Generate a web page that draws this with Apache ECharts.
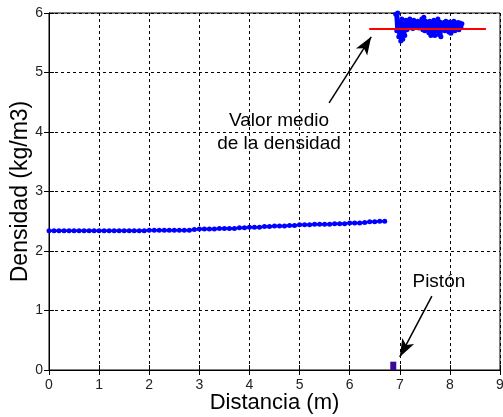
<!DOCTYPE html>
<html>
<head>
<meta charset="utf-8">
<script src="https://cdn.jsdelivr.net/npm/echarts@6/dist/echarts.min.js"></script>
<style>
  html, body { margin: 0; padding: 0; background: #fff; }
  #chart { width: 503px; height: 417px; }
</style>
</head>
<body>
<div id="chart"></div>
<script>
// Gas density ahead of the piston (low branch) and behind it (high branch)
const lowDist = [0.0, 0.1, 0.2, 0.3, 0.4, 0.5, 0.6, 0.7, 0.8, 0.9,
  1.0, 1.1, 1.2, 1.3, 1.4, 1.5, 1.6, 1.7, 1.8, 1.9,
  2.0, 2.1, 2.2, 2.3, 2.4, 2.5, 2.6, 2.7, 2.8, 2.9,
  3.0, 3.1, 3.2, 3.3, 3.4, 3.5, 3.6, 3.7, 3.8, 3.9,
  4.0, 4.1, 4.2, 4.3, 4.4, 4.5, 4.6, 4.7, 4.8, 4.9,
  5.0, 5.1, 5.2, 5.3, 5.4, 5.5, 5.6, 5.7, 5.8, 5.9,
  6.0, 6.1, 6.2, 6.3, 6.4, 6.5, 6.6, 6.7];
const lowDens = [2.34, 2.34, 2.34, 2.34, 2.34, 2.34, 2.34, 2.34, 2.34, 2.34,
  2.34, 2.34, 2.34, 2.34, 2.34, 2.34, 2.34, 2.34, 2.34, 2.34,
  2.35, 2.35, 2.35, 2.35, 2.35, 2.35, 2.35, 2.35, 2.35, 2.36,
  2.37, 2.37, 2.37, 2.37, 2.38, 2.38, 2.38, 2.38, 2.39, 2.39,
  2.40, 2.40, 2.40, 2.41, 2.41, 2.42, 2.42, 2.42, 2.43, 2.43,
  2.44, 2.44, 2.44, 2.45, 2.45, 2.45, 2.45, 2.46, 2.46, 2.46,
  2.47, 2.47, 2.47, 2.48, 2.49, 2.49, 2.50, 2.50];

const highDist = [6.92, 6.94, 6.96, 6.98, 7.00, 7.02, 7.04, 7.06, 7.08, 7.10,
  7.12, 7.14, 7.16, 7.18, 7.20, 7.22, 7.24, 7.26, 7.28, 7.30,
  7.32, 7.34, 7.36, 7.38, 7.40, 7.42, 7.44, 7.46, 7.48, 7.50,
  7.52, 7.54, 7.56, 7.58, 7.60, 7.62, 7.64, 7.66, 7.68, 7.70,
  7.72, 7.74, 7.76, 7.78, 7.80, 7.82, 7.84, 7.86, 7.88, 7.90,
  7.92, 7.94, 7.96, 7.98, 8.00, 8.02, 8.04, 8.06, 8.08, 8.10,
  8.12, 8.14, 8.16, 8.18, 8.20, 8.22, 8.24];
const highDens = [5.98, 5.70, 6.00, 5.60, 5.85, 5.53, 5.90, 5.56, 5.82, 5.62,
  5.88, 5.72, 5.86, 5.75, 5.90, 5.78, 5.84, 5.74, 5.88, 5.76,
  5.83, 5.79, 5.86, 5.75, 5.84, 5.80, 5.90, 5.72, 5.93, 5.70,
  5.86, 5.74, 5.82, 5.67, 5.86, 5.62, 5.84, 5.66, 5.88, 5.62,
  5.82, 5.70, 5.90, 5.64, 5.85, 5.60, 5.80, 5.74, 5.84, 5.70,
  5.86, 5.72, 5.83, 5.68, 5.85, 5.66, 5.82, 5.72, 5.86, 5.70,
  5.82, 5.74, 5.84, 5.72, 5.83, 5.76, 5.82];

// Mean density of the compressed region
const meanDens = 5.73;
const meanSpan = [6.39, 8.72];

// Piston position and drawn height
const pistonPos = 6.87;
const pistonHeight = 0.14;

// Annotation arrows: [start, tip] in data units
const meanArrow = [[5.59, 4.49], [6.43, 5.60]];
const pistonArrow = [[7.64, 1.24], [7.00, 0.22]];
const meanText = [4.59, 4.0];
const pistonText = [7.78, 1.48];

const xTicks = [0, 9, 1];
const yTicks = [0, 6, 1];

const font = '"Liberation Sans", Arial, sans-serif';
const gridDash = { color: '#000', width: 1, type: [3, 3] };

const chart = echarts.init(document.getElementById('chart'), null, { renderer: 'canvas' });

const toPairs = (xs, ys) => xs.map((x, i) => [x, ys[i]]);

const option = {
  backgroundColor: '#fff',
  animation: false,
  grid: {
    left: 49, top: 13, right: 3, bottom: 47,
    outerBoundsMode: 'none', containLabel: false,
    show: true, borderColor: '#000', borderWidth: 1
  },
  xAxis: [{
    type: 'value', min: xTicks[0], max: xTicks[1], interval: xTicks[2],
    name: 'Distancia (m)', nameLocation: 'middle', nameGap: 22, nameMoveOverlap: false,
    nameTextStyle: { fontFamily: font, fontSize: 22, color: '#000' },
    axisLine: { show: true, onZero: false, lineStyle: { color: '#000' } },
    axisTick: { show: true, inside: true, length: 5, lineStyle: { color: '#000' } },
    axisLabel: { fontFamily: font, fontSize: 14, color: '#222', margin: 8 },
    splitLine: { show: true, lineStyle: gridDash }
  }, {
    type: 'value', position: 'top', min: xTicks[0], max: xTicks[1], interval: xTicks[2],
    axisLine: { show: true, lineStyle: { color: '#000' } },
    axisTick: { show: true, inside: true, length: 5, lineStyle: { color: '#000' } },
    axisLabel: { show: false }, splitLine: { show: false }
  }],
  yAxis: [{
    type: 'value', min: yTicks[0], max: yTicks[1], interval: yTicks[2],
    name: 'Densidad (kg/m3)', nameLocation: 'middle', nameGap: 17, nameMoveOverlap: false,
    nameTextStyle: { fontFamily: font, fontSize: 23, color: '#000' },
    axisLine: { show: true, onZero: false, lineStyle: { color: '#000' } },
    axisTick: { show: true, inside: true, length: 5, lineStyle: { color: '#000' } },
    axisLabel: { fontFamily: font, fontSize: 14, color: '#222', margin: 6 },
    splitLine: { show: true, lineStyle: gridDash }
  }, {
    type: 'value', position: 'right', min: yTicks[0], max: yTicks[1], interval: yTicks[2],
    axisLine: { show: true, lineStyle: { color: '#000' } },
    axisTick: { show: true, inside: true, length: 5, lineStyle: { color: '#000' } },
    axisLabel: { show: false }, splitLine: { show: false }
  }],
  series: [
    {
      name: 'low', type: 'line', data: toPairs(lowDist, lowDens),
      symbol: 'circle', symbolSize: 5, showSymbol: true,
      itemStyle: { color: '#0000ff' }, lineStyle: { color: '#0000ff', width: 2.5 },
      z: 3
    },
    {
      name: 'high', type: 'line', data: toPairs(highDist, highDens),
      symbol: 'circle', symbolSize: 5, showSymbol: true,
      itemStyle: { color: '#0000ff' }, lineStyle: { color: '#0000ff', width: 3 },
      z: 3
    },
    {
      name: 'mean', type: 'line', data: [[meanSpan[0], meanDens], [meanSpan[1], meanDens]],
      symbol: 'none', lineStyle: { color: '#ff0000', width: 2 }, z: 4
    },
    {
      name: 'piston', type: 'bar', data: [[pistonPos, pistonHeight]],
      barWidth: 6, itemStyle: { color: '#3d0a96' }, z: 5
    },
    {
      name: 'notes', type: 'scatter', symbolSize: 0,
      itemStyle: { opacity: 1 },
      data: [
        { value: meanText, label: { formatter: 'Valor medio\nde la densidad' } },
        { value: pistonText, label: { formatter: 'Pistón' } }
      ],
      label: { show: true, position: 'inside', fontFamily: font, fontSize: 19, lineHeight: 23, color: '#000', align: 'center' },
      markLine: {
        silent: true, symbol: ['none', 'arrow'], symbolSize: [10, 18],
        lineStyle: { color: '#000', width: 1.5, type: 'solid' },
        label: { show: false },
        data: [
          [{ coord: meanArrow[0] }, { coord: meanArrow[1] }],
          [{ coord: pistonArrow[0] }, { coord: pistonArrow[1] }]
        ]
      },
      z: 6
    }
  ]
};

chart.setOption(option);
</script>
</body>
</html>
